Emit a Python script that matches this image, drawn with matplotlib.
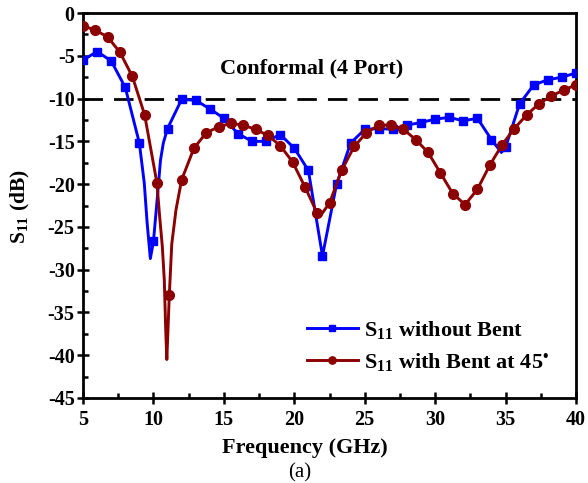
import numpy as np
import matplotlib
matplotlib.use("Agg")
import matplotlib.pyplot as plt

plt.rcParams['font.family'] = 'Liberation Serif'
plt.rcParams['font.weight'] = 'bold'
plt.rcParams['mathtext.default'] = 'regular'
plt.rcParams['mathtext.fontset'] = 'stix'
plt.rcParams['axes.unicode_minus'] = False

# S11 without bending, sampled every 1 GHz (marker points)
freq_flat = [5, 6, 7, 8, 9, 10, 11, 12, 13, 14, 15, 16, 17, 18, 19, 20, 21, 22,
             23, 24, 25, 26, 27, 28, 29, 30, 31, 32, 33, 34, 35, 36, 37, 38, 39, 40]
s11_flat = [-5.5, -4.5, -5.6, -8.7, -15.2, -26.7, -13.5, -10.1, -10.2, -11.2,
            -12.3, -14.1, -15.0, -15.0, -14.2, -15.8, -18.4, -28.4, -20.0, -15.2,
            -13.6, -13.5, -13.6, -13.1, -12.8, -12.4, -12.2, -12.6, -12.3, -14.8,
            -15.7, -10.6, -8.4, -7.8, -7.5, -7.0]
# extra line points around the resonances
freq_flat_dip = [9.35, 9.55, 9.78, 10.28, 10.5, 10.7, 34.7]
s11_flat_dip = [-19.9, -24.5, -28.7, -21.5, -17.2, -15.2, -16.3]

# S11 with 45 degree bend, sampled every 0.875 GHz (marker points)
freq_bent = [5.0, 5.875, 6.75, 7.625, 8.5, 9.375, 10.25, 11.125, 12.0, 12.875,
             13.75, 14.625, 15.5, 16.375, 17.25, 18.125, 19.0, 19.875, 20.75,
             21.625, 22.5, 23.375, 24.25, 25.125, 26.0, 26.875, 27.75, 28.625,
             29.5, 30.375, 31.25, 32.125, 33.0, 33.875, 34.75, 35.625, 36.5,
             37.375, 38.25, 39.125, 40.0]
s11_bent = [-1.5, -2.0, -2.8, -4.6, -7.4, -11.9, -19.9, -33.0, -19.5, -15.8,
            -14.0, -13.3, -12.9, -13.1, -13.6, -14.3, -15.5, -17.4, -20.3,
            -23.4, -22.2, -18.35, -15.6, -14.0, -13.1, -13.1, -13.6, -14.8,
            -16.3, -18.7, -21.1, -22.4, -20.6, -17.8, -15.4, -13.5, -11.9,
            -10.6, -9.7, -9.0, -8.4]
freq_bent_dip = [10.42, 10.63, 10.77, 10.87, 10.95, 11.3, 11.6, 21.9]
s11_bent_dip = [-23.4, -27.3, -31.2, -37.0, -40.5, -27.0, -23.0, -23.6]


def merge(f, s, fx, sx):
    f_all = np.array(f + fx, dtype=float)
    s_all = np.array(s + sx, dtype=float)
    order = np.argsort(f_all)
    f_all, s_all = f_all[order], s_all[order]
    marks = [i for i, v in enumerate(f_all) if v in f]
    return f_all, s_all, marks


f1, y1, m1 = merge(freq_flat, s11_flat, freq_flat_dip, s11_flat_dip)
f2, y2, m2 = merge(freq_bent, s11_bent, freq_bent_dip, s11_bent_dip)

fig = plt.figure(figsize=(5.88, 4.83), dpi=100)
ax = fig.add_axes([0.1412, 0.176, 0.8384, 0.797])

ax.plot(f1, y1, color='#0000ff', lw=2.1, marker='s', ms=6.2, markevery=m1,
        label='S$_{11}$ without Bent', zorder=3)
ax.plot(f2, y2, color='#8b0000', lw=2.1, marker='o', ms=7, markevery=m2,
        label='S$_{11}$ with Bent at 45$^{\u2022}$', zorder=4)
ax.axhline(-10, color='black', lw=2, dashes=(7, 4), zorder=2)

ax.text(21.2, -6.5, 'Conformal (4 Port)', fontsize=16, fontweight='bold',
        ha='center', va='center')

ax.set_xlim(5, 40)
ax.set_ylim(-45, 0)
ax.set_xticks(np.arange(5, 41, 5))
ax.set_yticks(np.arange(-45, 1, 5))
ax.set_xticks(np.arange(7.5, 40, 5), minor=True)
ax.set_yticks(np.arange(-42.5, 0, 5), minor=True)
ax.tick_params(which='major', direction='inout', length=8, width=1.8,
               top=False, right=False, labelsize=14.5, pad=2)
ax.tick_params(axis='x', which='major', pad=5)
ax.tick_params(which='minor', direction='in', length=3.5, width=1.8,
               top=False, right=False)
for sp in ax.spines.values():
    sp.set_linewidth(2)

ax.set_xlabel('Frequency (GHz)', fontsize=16, fontweight='bold')
ax.xaxis.set_label_coords(0.45, -0.105)
ax.set_ylabel('S$_{11}$ (dB)', fontsize=15.5, fontweight='bold')
ax.yaxis.set_label_coords(-0.126, 0.497)
ax.yaxis.label.set_verticalalignment('center')
fig.text(0.51, 0.021, '(a)', fontsize=15, fontweight='normal',
         ha='center', va='center')

ax.legend(loc='upper left', bbox_to_anchor=(0.4537, 0.205), frameon=False,
          fontsize=16, handlelength=2.3, numpoints=1, markerscale=0.75,
          labelspacing=0.45, handletextpad=0.3, borderpad=0,
          borderaxespad=0)

fig.savefig('out.png', dpi=100)
